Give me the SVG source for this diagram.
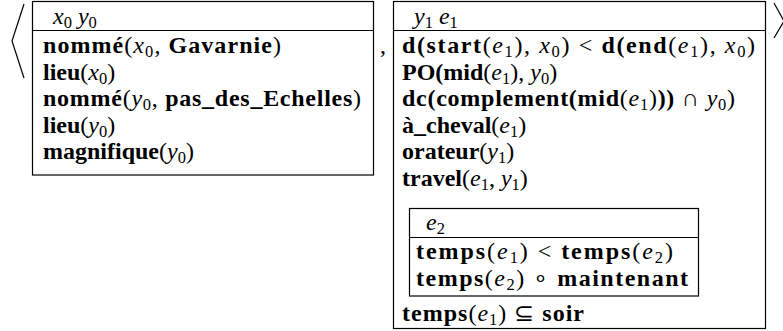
<svg xmlns="http://www.w3.org/2000/svg" width="783" height="331" viewBox="0 0 783 331">
<style>
text{font-size:24px;fill:#000}
tspan.b{font-weight:bold}
tspan.i{font-style:italic}
tspan.s{font-size:16.5px}
.box{fill:none;stroke:#000;stroke-width:1.2}
.br{fill:none;stroke:#000;stroke-width:1.2}
</style>
<rect width="783" height="331" fill="#fff"/>
<polyline class="br" points="24,4 12,41 24,78"/>
<polyline class="br" points="774,3 784,21 774,38"/>
<text font-family="Liberation Serif" x="380" y="53">,</text>
<g id="drs1">
<rect class="box" x="32.5" y="1.5" width="341" height="173.5"/>
<line class="box" x1="32.5" y1="30.5" x2="373.5" y2="30.5"/>
<text font-family="Liberation Serif" x="53" y="24"><tspan font-family="Liberation Serif" class="i">x</tspan><tspan font-family="Liberation Serif" class="s" dy="4">0</tspan><tspan font-family="Liberation Serif" dy="-4"> </tspan><tspan font-family="Liberation Serif" class="i">y</tspan><tspan font-family="Liberation Serif" class="s" dy="4">0</tspan></text>
<text font-family="Liberation Serif" x="43" y="53" textLength="238" lengthAdjust="spacing"><tspan font-family="Liberation Serif" class="b">nommé</tspan><tspan font-family="Liberation Serif">(</tspan><tspan font-family="Liberation Serif" class="i">x</tspan><tspan font-family="Liberation Serif" class="s" dy="4">0</tspan><tspan font-family="Liberation Serif" dy="-4">, </tspan><tspan font-family="Liberation Serif" class="b">Gavarnie</tspan><tspan font-family="Liberation Serif">)</tspan></text>
<text font-family="Liberation Serif" x="43" y="79.5"><tspan font-family="Liberation Serif" class="b">lieu</tspan><tspan font-family="Liberation Serif">(</tspan><tspan font-family="Liberation Serif" class="i">x</tspan><tspan font-family="Liberation Serif" class="s" dy="4">0</tspan><tspan font-family="Liberation Serif" dy="-4">)</tspan></text>
<text font-family="Liberation Serif" x="43" y="106" textLength="318" lengthAdjust="spacing"><tspan font-family="Liberation Serif" class="b">nommé</tspan><tspan font-family="Liberation Serif">(</tspan><tspan font-family="Liberation Serif" class="i">y</tspan><tspan font-family="Liberation Serif" class="s" dy="4">0</tspan><tspan font-family="Liberation Serif" dy="-4">, </tspan><tspan font-family="Liberation Serif" class="b">pas_des_Echelles</tspan><tspan font-family="Liberation Serif">)</tspan></text>
<text font-family="Liberation Serif" x="43" y="132.5"><tspan font-family="Liberation Serif" class="b">lieu</tspan><tspan font-family="Liberation Serif">(</tspan><tspan font-family="Liberation Serif" class="i">y</tspan><tspan font-family="Liberation Serif" class="s" dy="4">0</tspan><tspan font-family="Liberation Serif" dy="-4">)</tspan></text>
<text font-family="Liberation Serif" x="43" y="159"><tspan font-family="Liberation Serif" class="b">magnifique</tspan><tspan font-family="Liberation Serif">(</tspan><tspan font-family="Liberation Serif" class="i">y</tspan><tspan font-family="Liberation Serif" class="s" dy="4">0</tspan><tspan font-family="Liberation Serif" dy="-4">)</tspan></text>
</g>
<g id="drs2">
<rect class="box" x="393.5" y="1.5" width="372" height="327"/>
<line class="box" x1="393.5" y1="30.5" x2="765.5" y2="30.5"/>
<text font-family="Liberation Serif" x="414" y="24"><tspan font-family="Liberation Serif" class="i">y</tspan><tspan font-family="Liberation Serif" class="s" dy="4">1</tspan><tspan font-family="Liberation Serif" dy="-4"> </tspan><tspan font-family="Liberation Serif" class="i">e</tspan><tspan font-family="Liberation Serif" class="s" dy="4">1</tspan></text>
<text font-family="Liberation Serif" x="402" y="53" textLength="353" lengthAdjust="spacing"><tspan font-family="Liberation Serif" class="b">d(start</tspan><tspan font-family="Liberation Serif">(</tspan><tspan font-family="Liberation Serif" class="i">e</tspan><tspan font-family="Liberation Serif" class="s" dy="4">1</tspan><tspan font-family="Liberation Serif" dy="-4">), </tspan><tspan font-family="Liberation Serif" class="i">x</tspan><tspan font-family="Liberation Serif" class="s" dy="4">0</tspan><tspan font-family="Liberation Serif" dy="-4">) &lt; </tspan><tspan font-family="Liberation Serif" class="b">d(end</tspan><tspan font-family="Liberation Serif">(</tspan><tspan font-family="Liberation Serif" class="i">e</tspan><tspan font-family="Liberation Serif" class="s" dy="4">1</tspan><tspan font-family="Liberation Serif" dy="-4">), </tspan><tspan font-family="Liberation Serif" class="i">x</tspan><tspan font-family="Liberation Serif" class="s" dy="4">0</tspan><tspan font-family="Liberation Serif" dy="-4">)</tspan></text>
<text font-family="Liberation Serif" x="402" y="79.5"><tspan font-family="Liberation Serif" class="b">PO(mid</tspan><tspan font-family="Liberation Serif">(</tspan><tspan font-family="Liberation Serif" class="i">e</tspan><tspan font-family="Liberation Serif" class="s" dy="4">1</tspan><tspan font-family="Liberation Serif" dy="-4">), </tspan><tspan font-family="Liberation Serif" class="i">y</tspan><tspan font-family="Liberation Serif" class="s" dy="4">0</tspan><tspan font-family="Liberation Serif" dy="-4">)</tspan></text>
<text font-family="Liberation Serif" x="402" y="106" textLength="333" lengthAdjust="spacing"><tspan font-family="Liberation Serif" class="b">dc(complement(mid</tspan><tspan font-family="Liberation Serif">(</tspan><tspan font-family="Liberation Serif" class="i">e</tspan><tspan font-family="Liberation Serif" class="s" dy="4">1</tspan><tspan font-family="Liberation Serif" dy="-4">)</tspan><tspan font-family="Liberation Serif" class="b">))</tspan><tspan font-family="Liberation Serif"> ∩ </tspan><tspan font-family="Liberation Serif" class="i">y</tspan><tspan font-family="Liberation Serif" class="s" dy="4">0</tspan><tspan font-family="Liberation Serif" dy="-4">)</tspan></text>
<text font-family="Liberation Serif" x="402" y="132.5"><tspan font-family="Liberation Serif" class="b">à_cheval</tspan><tspan font-family="Liberation Serif">(</tspan><tspan font-family="Liberation Serif" class="i">e</tspan><tspan font-family="Liberation Serif" class="s" dy="4">1</tspan><tspan font-family="Liberation Serif" dy="-4">)</tspan></text>
<text font-family="Liberation Serif" x="402" y="159"><tspan font-family="Liberation Serif" class="b">orateur</tspan><tspan font-family="Liberation Serif">(</tspan><tspan font-family="Liberation Serif" class="i">y</tspan><tspan font-family="Liberation Serif" class="s" dy="4">1</tspan><tspan font-family="Liberation Serif" dy="-4">)</tspan></text>
<text font-family="Liberation Serif" x="402" y="185.5"><tspan font-family="Liberation Serif" class="b">travel</tspan><tspan font-family="Liberation Serif">(</tspan><tspan font-family="Liberation Serif" class="i">e</tspan><tspan font-family="Liberation Serif" class="s" dy="4">1</tspan><tspan font-family="Liberation Serif" dy="-4">, </tspan><tspan font-family="Liberation Serif" class="i">y</tspan><tspan font-family="Liberation Serif" class="s" dy="4">1</tspan><tspan font-family="Liberation Serif" dy="-4">)</tspan></text>
<g id="drs3">
<rect class="box" x="409.5" y="208.5" width="289" height="87.5"/>
<line class="box" x1="409.5" y1="237.5" x2="698.5" y2="237.5"/>
<text font-family="Liberation Serif" x="426" y="230"><tspan font-family="Liberation Serif" class="i">e</tspan><tspan font-family="Liberation Serif" class="s" dy="4">2</tspan></text>
<text font-family="Liberation Serif" x="416" y="259" textLength="257" lengthAdjust="spacing"><tspan font-family="Liberation Serif" class="b">temps</tspan><tspan font-family="Liberation Serif">(</tspan><tspan font-family="Liberation Serif" class="i">e</tspan><tspan font-family="Liberation Serif" class="s" dy="4">1</tspan><tspan font-family="Liberation Serif" dy="-4">) &lt; </tspan><tspan font-family="Liberation Serif" class="b">temps</tspan><tspan font-family="Liberation Serif">(</tspan><tspan font-family="Liberation Serif" class="i">e</tspan><tspan font-family="Liberation Serif" class="s" dy="4">2</tspan><tspan font-family="Liberation Serif" dy="-4">)</tspan></text>
<text font-family="Liberation Serif" x="416" y="285.5" textLength="272" lengthAdjust="spacing"><tspan font-family="Liberation Serif" class="b">temps</tspan><tspan font-family="Liberation Serif">(</tspan><tspan font-family="Liberation Serif" class="i">e</tspan><tspan font-family="Liberation Serif" class="s" dy="4">2</tspan><tspan font-family="Liberation Serif" dy="-4">) ∘ </tspan><tspan font-family="Liberation Serif" class="b">maintenant</tspan></text>
</g>
<text font-family="Liberation Serif" x="402" y="321" textLength="182" lengthAdjust="spacing"><tspan font-family="Liberation Serif" class="b">temps</tspan><tspan font-family="Liberation Serif">(</tspan><tspan font-family="Liberation Serif" class="i">e</tspan><tspan font-family="Liberation Serif" class="s" dy="4">1</tspan><tspan font-family="Liberation Serif" dy="-4">) ⊆ </tspan><tspan font-family="Liberation Serif" class="b">soir</tspan></text>
</g>
</svg>
